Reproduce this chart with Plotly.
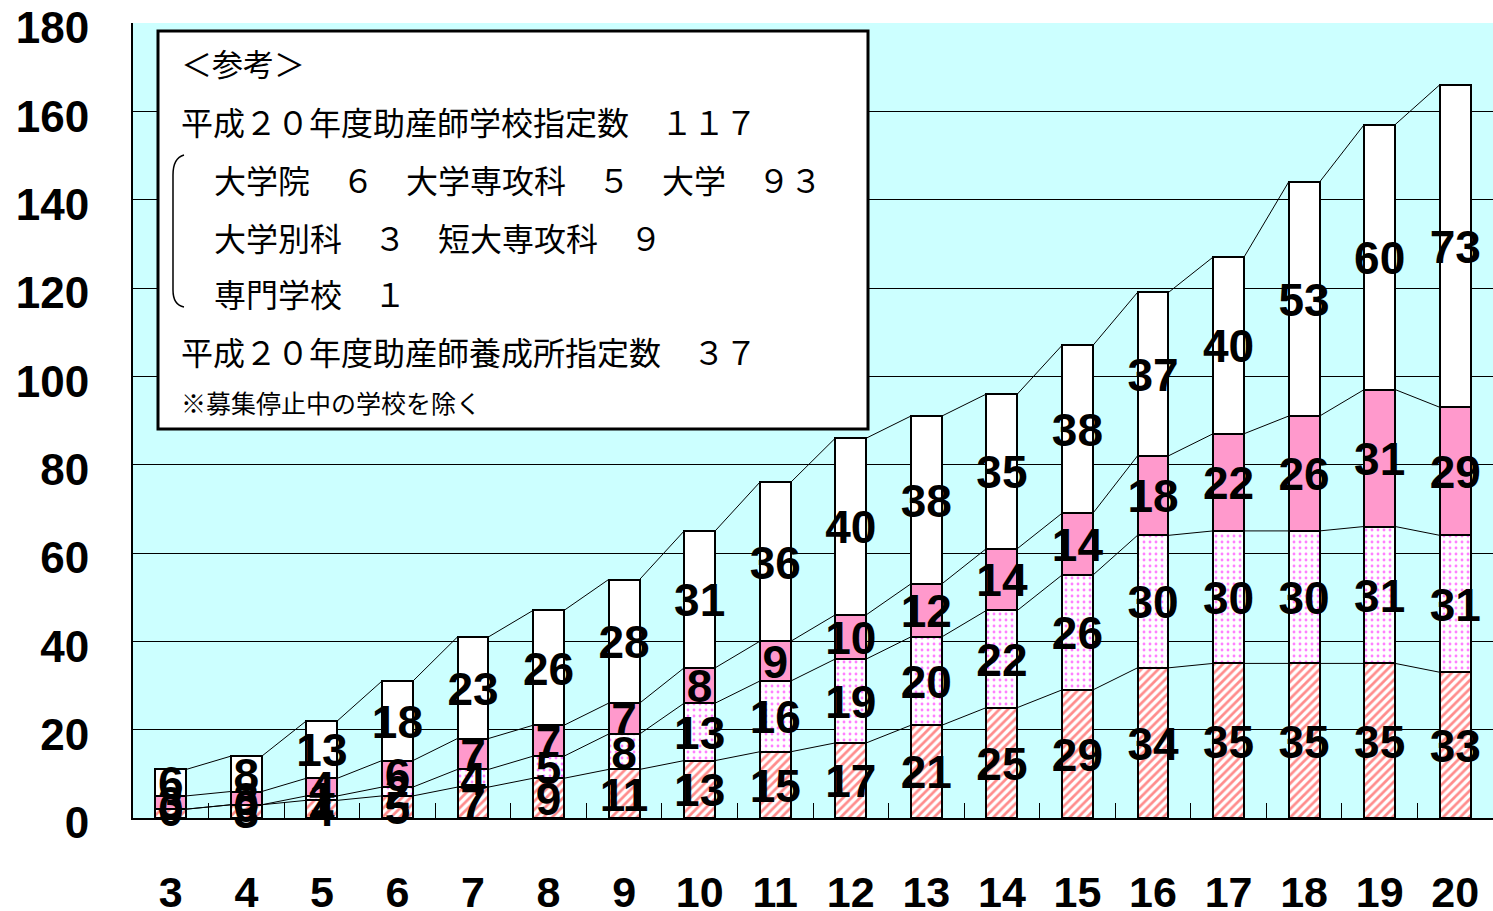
import plotly.graph_objects as go

years = ["3", "4", "5", "6", "7", "8", "9", "10", "11", "12", "13", "14", "15", "16", "17", "18", "19", "20"]
s_hatch = [2, 3, 4, 5, 7, 9, 11, 13, 15, 17, 21, 25, 29, 34, 35, 35, 35, 33]
s_dot = [0, 0, 1, 2, 4, 5, 8, 13, 16, 19, 20, 22, 26, 30, 30, 30, 31, 31]
s_pink = [3, 3, 4, 6, 7, 7, 7, 8, 9, 10, 12, 14, 14, 18, 22, 26, 31, 29]
s_white = [6, 8, 13, 18, 23, 26, 28, 31, 36, 40, 38, 35, 38, 37, 40, 53, 60, 73]

box_lines = [
    "＜参考＞",
    "平成２０年度助産師学校指定数　１１７",
    "大学院　６　大学専攻科　５　大学　９３",
    "大学別科　３　短大専攻科　９",
    "専門学校　１",
    "平成２０年度助産師養成所指定数　３７",
    "※募集停止中の学校を除く",
]

n = len(years)
xs = list(range(n))
W = 0.41
series = [s_hatch, s_dot, s_pink, s_white]

fig = go.Figure()

fig.add_bar(x=xs, y=s_hatch, width=W,
            marker=dict(color="white", line=dict(color="black", width=2),
                        pattern=dict(shape="/", fgcolor="#FF1A1A", bgcolor="white", size=6, solidity=0.45)),
            hoverinfo="skip")
fig.add_bar(x=xs, y=s_dot, width=W,
            marker=dict(color="white", line=dict(color="black", width=2),
                        pattern=dict(shape=".", fgcolor="#FF00FF", bgcolor="white", size=6, solidity=0.18)),
            hoverinfo="skip")
fig.add_bar(x=xs, y=s_pink, width=W,
            marker=dict(color="#FF99CC", line=dict(color="black", width=2)), hoverinfo="skip")
fig.add_bar(x=xs, y=s_white, width=W,
            marker=dict(color="white", line=dict(color="black", width=2)), hoverinfo="skip")

cums = []
run = [0] * n
for s in series:
    run = [a + b for a, b in zip(run, s)]
    cums.append(run)

lx, ly = [], []
for c in cums:
    for i in range(n - 1):
        lx += [i + W / 2, i + 1 - W / 2, None]
        ly += [c[i], c[i + 1], None]
fig.add_scatter(x=lx, y=ly, mode="lines", line=dict(color="black", width=1), hoverinfo="skip")

tx, ty, tt = [], [], []
base = [0] * n
for s in series:
    for i in range(n):
        tx.append(i)
        ty.append(base[i] + s[i] / 2 - 1.2)
        tt.append(str(s[i]))
    base = [a + b for a, b in zip(base, s)]
fig.add_scatter(x=tx, y=ty, text=tt, mode="text", textposition="middle center",
                textfont=dict(family="Liberation Sans, Arial", size=46, color="black", weight="bold"),
                cliponaxis=False, hoverinfo="skip")

PL, PR, PT, PB = 133, 1493, 23, 818
def px(x):
    return (x - PL) / (PR - PL)
def py(y):
    return (PB - y) / (PB - PT)

fig.add_shape(type="rect", xref="paper", yref="paper", x0=px(158), x1=px(868), y0=py(429), y1=py(31),
              fillcolor="white", line=dict(color="black", width=3), layer="above")
path = "M {:.5f},{:.5f} Q {:.5f},{:.5f} {:.5f},{:.5f} L {:.5f},{:.5f} Q {:.5f},{:.5f} {:.5f},{:.5f}".format(
    px(184), py(155), px(173), py(158), px(173), py(175), px(173), py(290), px(173), py(305), px(184), py(307))
fig.add_shape(type="path", xref="paper", yref="paper", path=path, line=dict(color="black", width=1.5), layer="above")

line_pos = [(180, 63, 31), (180, 121, 32), (213, 179, 32), (213, 237, 32), (213, 293, 32), (180, 351, 32), (180, 402, 25)]
for txt, (x, y, fs) in zip(box_lines, line_pos):
    fig.add_annotation(xref="paper", yref="paper", x=px(x), y=py(y), text=txt, showarrow=False,
                       xanchor="left", yanchor="middle", borderpad=0,
                       font=dict(family="Noto Sans CJK JP", size=fs, color="black"))

fig.update_layout(
    barmode="stack",
    width=1493, height=911,
    margin=dict(l=PL, r=0, t=PT, b=911 - PB, pad=0, autoexpand=False),
    plot_bgcolor="#CCFFFF",
    paper_bgcolor="white",
    showlegend=False,
)
fig.update_xaxes(range=[-0.5, n - 0.5], tickvals=xs, ticktext=years, ticks="", showgrid=False,
                 showline=True, linecolor="black", linewidth=2, zeroline=False, automargin=False,
                 tickfont=dict(family="Liberation Sans, Arial", size=43, color="black", weight="bold"),
                 ticklabelstandoff=35, ticklabeloverflow="allow",
                 minor=dict(tickvals=[i + 0.5 for i in range(n - 1)], ticks="inside", ticklen=15,
                            tickcolor="black", tickwidth=1, showgrid=False))
fig.update_yaxes(range=[0, 180], dtick=20, showgrid=True, gridcolor="black", gridwidth=1,
                 showline=True, linecolor="black", linewidth=2, zeroline=False, ticks="", automargin=False,
                 tickfont=dict(family="Liberation Sans, Arial", size=44, color="black", weight="bold"),
                 ticklabelstandoff=33, ticklabelshift=5, ticklabeloverflow="allow")

fig.write_html("out.html", config={"displayModeBar": False},
               post_script="document.body.style.margin='0';document.body.style.overflow='hidden';")
